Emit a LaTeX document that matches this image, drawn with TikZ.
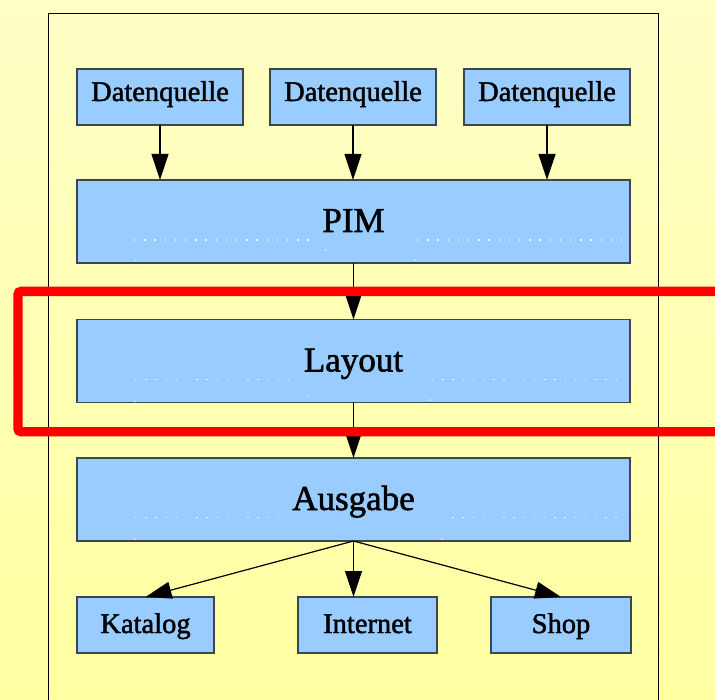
\documentclass[tikz,border=0pt]{standalone}
\usepackage{fontspec}
\setmainfont{Liberation Serif}[BoldFont=Liberation Serif, BoldFeatures={FakeBold=1.6}]
\usetikzlibrary{arrows.meta}
\definecolor{boxfill}{HTML}{99CCFF}
\definecolor{boxline}{HTML}{3C4650}
\definecolor{paperTop}{HTML}{FFFFC6}
\definecolor{paperBot}{HTML}{FFFFA2}
\definecolor{markred}{HTML}{FF0000}

\begin{document}
\begin{tikzpicture}[x=1pt,y=-1pt,
  box/.style={draw=boxline, line width=1.4pt, fill=boxfill, rectangle,
    inner sep=0pt, outer sep=0pt},
  srcbox/.style={box, minimum width=166pt, minimum height=56pt,
    font=\fontsize{28.5}{30}\selectfont\bfseries, text height=22pt, text depth=14pt},
  outbox/.style={box, minimum height=56pt,
    font=\fontsize{28.5}{30}\selectfont\bfseries, text height=22pt, text depth=6pt},
  stagebox/.style={box, minimum width=553pt, minimum height=83pt,
    font=\fontsize{35}{38}\selectfont\bfseries, text height=30pt, text depth=9pt},
  conn/.style={line width=1.2pt, draw=black,
    -{Triangle[length=26pt,width=17pt]}},
  ghost/.style={draw=white, draw opacity=0.85, line width=1.3pt,
    dash pattern=on 1.3pt off 8.9pt},
  ghostdot/.style={fill=white, fill opacity=0.85}
]
\useasboundingbox (0,0) rectangle (715,700);
% page background
\shade[top color=paperTop, bottom color=paperBot] (0,0) rectangle (715,700);
% frame of the slide content
\draw[line width=1.5pt] (48.5,720) -- (48.5,13.5) -- (658.5,13.5) -- (658.5,720);

% sources
\node[srcbox] (d1) at (160,97) {Datenquelle};
\node[srcbox] (d2) at (353,97) {Datenquelle};
\node[srcbox] (d3) at (547,97) {Datenquelle};

% processing stages
\node[stagebox] (pim) at (353.5,221.5) {PIM};
\node[stagebox] (lay) at (353.5,361) {Layout};
\node[stagebox] (aus) at (353.5,499.5) {Ausgabe};

% outputs
\node[outbox, minimum width=137pt] (kat) at (145.5,625) {Katalog};
\node[outbox, minimum width=139pt] (int) at (367.5,625) {Internet};
\node[outbox, minimum width=140pt] (shop) at (561,625) {Shop};

% faint dotted guide lines inside the stage boxes
\draw[ghost] (134,240) -- (312,240);
\draw[ghost] (417,240) -- (625,240);
\fill[ghostdot] (325.7,250) circle (0.8) (135,260.7) circle (0.8) (415,260) circle (0.8);
\draw[ghost] (135,379.3) -- (292,379.3);
\draw[ghost] (432,379.3) -- (620,379.3);
\fill[ghostdot] (135,401.7) circle (0.8) (307.7,396.7) circle (0.8) (430,400) circle (0.8);
\draw[ghost] (135,517.3) -- (282,517.3);
\draw[ghost] (442,517.3) -- (620,517.3);
\fill[ghostdot] (135,539) circle (0.8) (442,539) circle (0.8);

% connectors
\draw[conn] (d1.south) -- (d1.south |- pim.north);
\draw[conn] (d2.south) -- (d2.south |- pim.north);
\draw[conn] (d3.south) -- (d3.south |- pim.north);
\draw[conn] (pim.south) -- (lay.north);
\draw[conn] (lay.south) -- (aus.north);
\draw[conn] (aus.south) -- (kat.north);
\draw[conn] (aus.south) -- (aus.south |- int.north);
\draw[conn] (aus.south) -- (shop.north);

% highlight around the layout stage
\draw[markred, line width=9.3pt, rounded corners=3pt]
  (730,291.4) -- (18,291.4) -- (18,431.7) -- (730,431.7);
\end{tikzpicture}
\end{document}
